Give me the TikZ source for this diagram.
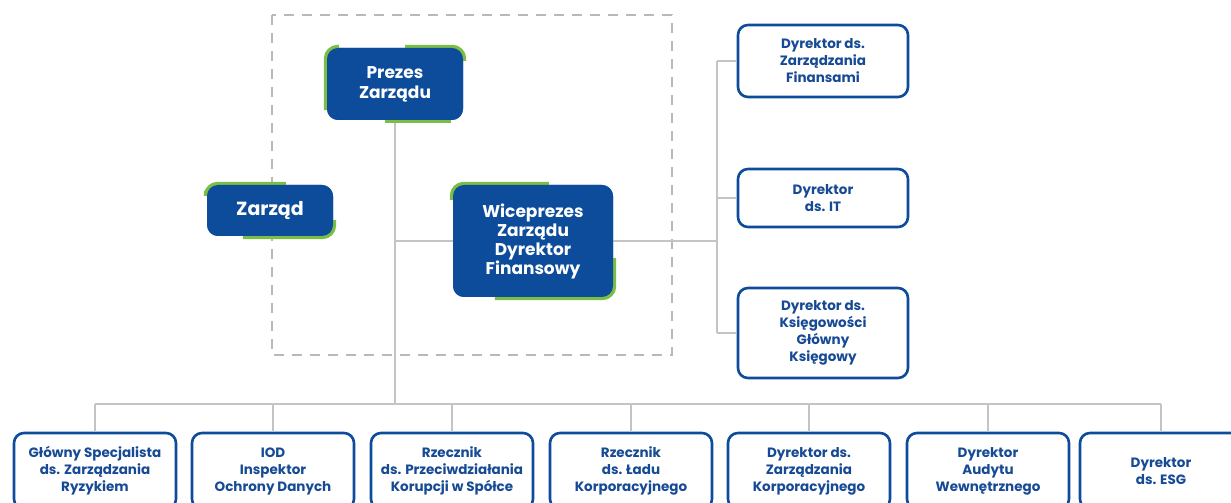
\documentclass[tikz,border=0pt]{standalone}
\usepackage{fontspec}
\setmainfont{Poppins}
\usetikzlibrary{calc}
\definecolor{bluefill}{RGB}{12,76,155}
\definecolor{bluetext}{RGB}{22,74,148}
\definecolor{accentgreen}{RGB}{122,190,70}
\definecolor{linegray}{RGB}{196,196,196}
\definecolor{dashgray}{RGB}{185,185,185}
\tikzset{
  darkbox/.style={fill=bluefill, text=white, rounded corners=11pt, inner sep=0pt, align=center, font=\bfseries\fontsize{17}{20}\selectfont},
  lightbox/.style={draw=bluefill, line width=2.6pt, fill=white, text=bluetext, rounded corners=10pt, inner sep=0pt, align=center, font=\bfseries\fontsize{13.5}{17}\selectfont},
  accent/.style={draw=accentgreen, line width=6pt, rounded corners=11pt},
  conn/.style={draw=linegray, line width=2.8pt},
  frame/.style={draw=dashgray, line width=1.3pt, dash pattern=on 10pt off 8pt}
}
\begin{document}
\begin{tikzpicture}[x=1pt,y=1pt]
\useasboundingbox (0,0) rectangle (1231,503);
\clip (0,0) rectangle (1231,503);
\fill[white] (0,0) rectangle (1231,503);

% dashed frame
\draw[frame] (272,488) rectangle (672,148);

% coordinates for connectors
\coordinate (bus) at (0,99);
\coordinate (rbus) at (717,0);

% nodes (placed first, drawn over connectors via layering order below)
\path
  node[darkbox, minimum width=136pt, minimum height=72pt] (prezes) at (395,419) {Prezes\\Zarządu}
  node[darkbox, minimum width=126pt, minimum height=51pt, font=\bfseries\fontsize{19}{22}\selectfont] (zarzad) at (270,292.5) {Zarząd}
  node[darkbox, minimum width=160pt, minimum height=112pt, font=\bfseries\fontsize{17}{19}\selectfont] (wice) at (533,262) {Wiceprezes\\Zarządu\\Dyrektor\\Finansowy};

\path
  node[lightbox, minimum width=170pt, minimum height=72pt] (r1) at (823,442) {Dyrektor ds.\\Zarządzania\\Finansami}
  node[lightbox, minimum width=170pt, minimum height=58pt] (r2) at (823,305) {Dyrektor\\ds. IT}
  node[lightbox, minimum width=170pt, minimum height=90pt] (r3) at (823,170) {Dyrektor ds.\\Księgowości\\Główny\\Księgowy};

\path
  node[lightbox, minimum width=162pt, minimum height=76pt] (b1) at (95,32) {Główny Specjalista\\ds. Zarządzania\\Ryzykiem}
  node[lightbox, minimum width=162pt, minimum height=76pt] (b2) at (273,32) {IOD\\Inspektor\\Ochrony Danych}
  node[lightbox, minimum width=162pt, minimum height=76pt] (b3) at (452,32) {Rzecznik\\ds. Przeciwdziałania\\Korupcji w Spółce}
  node[lightbox, minimum width=162pt, minimum height=76pt] (b4) at (631,32) {Rzecznik\\ds. Ładu\\Korporacyjnego}
  node[lightbox, minimum width=162pt, minimum height=76pt] (b5) at (809,32) {Dyrektor ds.\\Zarządzania\\Korporacyjnego}
  node[lightbox, minimum width=162pt, minimum height=76pt] (b6) at (988,32) {Dyrektor\\Audytu\\Wewnętrznego}
  node[lightbox, minimum width=162pt, minimum height=76pt] (b7) at (1161,32) {Dyrektor\\ds. ESG};

% connectors
\draw[conn] (prezes.south) -- (prezes.south |- bus);
\draw[conn] (prezes.south |- wice.west) -- (wice.west);
\draw[conn] (wice.east) -- (rbus |- wice.east);
\draw[conn] (rbus |- r1.west) -- (rbus |- r3.west);
\foreach \n in {r1,r2,r3} \draw[conn] (rbus |- \n.west) -- (\n.west);
\draw[conn] (b1.north |- bus) -- (b7.north |- bus);
\foreach \n in {b1,b2,b3,b4,b5,b6,b7} \draw[conn] (\n.north |- bus) -- (\n.north);

% green accents
\draw[accent] ($(prezes.south west)+(0,10)$) -- (prezes.north west) -- ($(prezes.north west)+(12,0)$);
\draw[accent] ($(prezes.north east)+(-58,0)$) -- (prezes.north east) -- ($(prezes.north east)+(0,-13)$);
\draw[draw=accentgreen, line width=6pt] ($(prezes.south west)+(58,0)$) -- ($(prezes.south east)+(-12,0)$);
\draw[accent] ($(zarzad.north west)+(0,-6)$) -- (zarzad.north west) -- ($(zarzad.north west)+(79,0)$);
\draw[accent] ($(zarzad.south west)+(36,0)$) -- (zarzad.south east) -- ($(zarzad.south east)+(0,16)$);
\draw[accent] ($(wice.north west)+(0,-15)$) -- (wice.north west) -- ($(wice.north west)+(96,0)$);
\draw[accent] ($(wice.south west)+(42,0)$) -- (wice.south east) -- ($(wice.south east)+(0,39)$);

% redraw boxes on top of connectors and accents
\node[darkbox, minimum width=136pt, minimum height=72pt] at (prezes) {Prezes\\Zarządu};
\node[darkbox, minimum width=126pt, minimum height=51pt, font=\bfseries\fontsize{19}{22}\selectfont] at (zarzad) {Zarząd};
\node[darkbox, minimum width=160pt, minimum height=112pt, font=\bfseries\fontsize{17}{19}\selectfont] at (wice) {Wiceprezes\\Zarządu\\Dyrektor\\Finansowy};
\end{tikzpicture}
\end{document}
